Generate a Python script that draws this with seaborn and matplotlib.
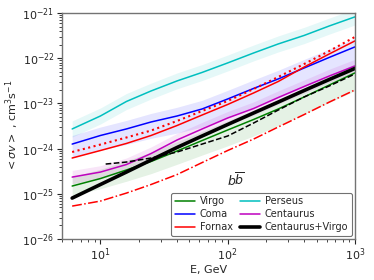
import numpy as np
import pandas as pd
import matplotlib
matplotlib.use("Agg")
import matplotlib.pyplot as plt
import seaborn as sns

# === Energy grid (GeV) ===
energy = [6, 10, 16, 25, 40, 63, 100, 160, 250, 400, 630, 1000]
energy_dashed = [11, 16, 25, 40, 63, 100, 160, 250, 400, 630, 1000]

# === Upper limits on <sigma v> (cm^3 s^-1), b-bbar channel ===
virgo = [1.49e-25, 2.18e-25, 3.37e-25, 5.19e-25, 8.85e-25, 1.51e-24,
         2.58e-24, 4.41e-24, 7.52e-24, 1.39e-23, 2.55e-23, 4.71e-23]
coma = [1.26e-24, 1.95e-24, 2.72e-24, 3.88e-24, 5.26e-24, 7.52e-24,
        1.25e-23, 2.14e-23, 3.47e-23, 6.07e-23, 1.04e-22, 1.77e-22]
fornax = [6.20e-25, 9.08e-25, 1.30e-24, 1.95e-24, 3.24e-24, 5.53e-24,
          9.45e-24, 1.70e-23, 3.05e-23, 6.38e-23, 1.24e-22, 2.40e-22]
fornax_dotted = [8.41e-25, 1.23e-24, 1.76e-24, 2.51e-24, 4.08e-24, 6.79e-24,
                 1.13e-23, 2.08e-23, 3.84e-23, 7.44e-23, 1.44e-22, 2.94e-22]
fornax_dashdot = [5.37e-26, 6.93e-26, 1.04e-25, 1.61e-25, 2.67e-25, 4.92e-25,
                  9.08e-25, 1.63e-24, 3.01e-24, 5.68e-24, 1.07e-23, 1.98e-23]
perseus = [2.72e-24, 5.26e-24, 1.10e-23, 1.88e-23, 3.13e-23, 4.83e-23,
           7.83e-23, 1.30e-22, 2.06e-22, 3.18e-22, 5.15e-22, 8.16e-22]
centaurus = [2.35e-25, 3.03e-25, 4.45e-25, 7.79e-25, 1.55e-24, 2.72e-24,
             4.75e-24, 7.71e-24, 1.35e-23, 2.37e-23, 4.04e-23, 6.71e-23]
cen_virgo = [8.07e-26, 1.61e-25, 3.03e-25, 5.60e-25, 1.06e-24, 1.90e-24,
             3.41e-24, 6.14e-24, 1.07e-23, 1.93e-23, 3.38e-23, 5.92e-23]
previous = [4.56e-25, 5.05e-25, 6.20e-25, 8.41e-25, 1.26e-24, 1.90e-24,
            3.68e-24, 7.14e-24, 1.39e-23, 2.43e-23, 4.47e-23]

# === Uncertainty bands ===
perseus_lo = [1.8e-24, 3.5e-24, 7.3e-24, 1.25e-23, 2.1e-23, 3.2e-23,
              5.2e-23, 8.7e-23, 1.37e-22, 2.1e-22, 3.4e-22, 5.4e-22]
perseus_hi = [4.1e-24, 7.9e-24, 1.65e-23, 2.8e-23, 4.7e-23, 7.2e-23,
              1.17e-22, 1.95e-22, 3.1e-22, 4.8e-22, 7.7e-22, 1.22e-21]
coma_lo = [6.3e-25, 9.3e-25, 1.24e-24, 1.69e-24, 2.2e-24, 3.0e-24,
           4.8e-24, 8.2e-24, 1.33e-23, 2.33e-23, 4.0e-23, 6.8e-23]
coma_hi = [1.95e-24, 3.0e-24, 4.2e-24, 6.0e-24, 8.2e-24, 1.17e-23,
           1.94e-23, 3.3e-23, 5.4e-23, 9.4e-23, 1.6e-22, 2.75e-22]
centaurus_lo = [1.68e-25, 2.16e-25, 3.2e-25, 5.6e-25, 1.1e-24, 1.94e-24,
                3.4e-24, 5.5e-24, 9.6e-24, 1.69e-23, 2.9e-23, 4.8e-23]
centaurus_hi = [3.3e-25, 4.2e-25, 6.2e-25, 1.09e-24, 2.17e-24, 3.8e-24,
                6.6e-24, 1.08e-23, 1.89e-23, 3.3e-23, 5.7e-23, 9.4e-23]
virgo_lo = [9.3e-26, 1.3e-25, 1.9e-25, 2.8e-25, 4.5e-25, 7.2e-25,
            1.15e-24, 1.9e-24, 3.2e-24, 5.8e-24, 1.05e-23, 1.9e-23]
virgo_hi = [2.4e-25, 3.5e-25, 5.4e-25, 8.3e-25, 1.42e-24, 2.4e-24,
            4.1e-24, 7.1e-24, 1.2e-23, 2.2e-23, 4.1e-23, 7.5e-23]

# === Style ===
sns.set_style("ticks")
plt.rcParams["font.family"] = ["DejaVu Sans"]
plt.rcParams["mathtext.fontset"] = "dejavusans"

fig = plt.figure(figsize=(3.74, 2.8), dpi=100)
ax = fig.add_axes([0.166, 0.146, 0.783, 0.808])

# === Bands ===
bands = [
    (perseus_lo, perseus_hi, "c"),
    (coma_lo, coma_hi, "b"),
    (centaurus_lo, centaurus_hi, "m"),
    (virgo_lo, virgo_hi, "g"),
]
for lo, hi, col in bands:
    ax.fill_between(energy, lo, hi, color=col, alpha=0.1, lw=0)

# === Lines ===
lines = [
    ("Virgo", virgo, "g", "-", 1.1),
    ("Coma", coma, "b", "-", 1.1),
    ("Fornax", fornax, "r", "-", 1.1),
    ("Perseus", perseus, "c", "-", 1.1),
    ("Centaurus", centaurus, "m", "-", 1.1),
    ("Centaurus+Virgo", cen_virgo, "k", "-", 2.6),
]
for label, vals, col, ls, lw in lines:
    df = pd.DataFrame({"E": energy, "sv": vals})
    sns.lineplot(data=df, x="E", y="sv", color=col, linestyle=ls, lw=lw,
                 label=label, ax=ax)

sns.lineplot(x=energy, y=fornax_dotted, color="r", linestyle=":", lw=1.5, ax=ax)
sns.lineplot(x=energy, y=fornax_dashdot, color="r", linestyle="-.", lw=1.1, ax=ax)
sns.lineplot(x=energy_dashed, y=previous, color="k", linestyle="--", lw=1.1, ax=ax)

ax.set_xscale("log")
ax.set_yscale("log")
ax.set_xlim(5, 1000)
ax.set_ylim(1e-26, 1e-21)
ax.set_xlabel("E, GeV", fontsize=8, labelpad=1)
ax.set_ylabel(r"$<\sigma v>$ , cm$^3$s$^{-1}$", fontsize=8, labelpad=1)
ax.tick_params(axis="both", which="major", labelsize=8, length=3.5,
               width=0.8, pad=2)
ax.tick_params(axis="both", which="minor", length=2, width=0.6)
for s in ax.spines.values():
    s.set_color("0.45")
    s.set_linewidth(1.0)

leg = ax.legend(loc="lower right", ncol=2, fontsize=7, frameon=True,
                borderaxespad=0.3, handlelength=2.0, columnspacing=0.8,
                labelspacing=0.3, borderpad=0.4, handletextpad=0.5)
leg.get_frame().set_edgecolor("0.3")
leg.get_frame().set_linewidth(0.8)
ax.text(0.595, 0.222, r"$b\overline{b}$", transform=ax.transAxes,
        fontsize=9, ha="center", va="bottom")

fig.savefig("out.png", dpi=100)
